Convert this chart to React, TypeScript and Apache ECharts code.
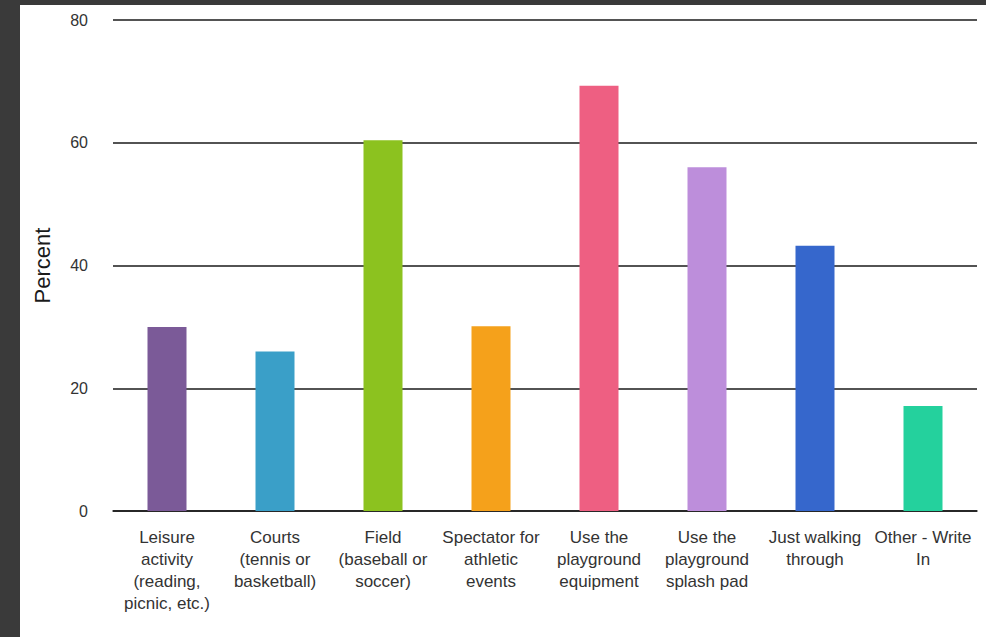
import React, { useEffect, useRef } from "react";
import * as echarts from "echarts";

const categories = [
  "Leisure\nactivity\n(reading,\npicnic, etc.)",
  "Courts\n(tennis or\nbasketball)",
  "Field\n(baseball or\nsoccer)",
  "Spectator for\nathletic\nevents",
  "Use the\nplayground\nequipment",
  "Use the\nplayground\nsplash pad",
  "Just walking\nthrough",
  "Other - Write\nIn",
];
const values = [30.0, 26.0, 60.4, 30.1, 69.3, 56.0, 43.2, 17.1];
const barColors = ["#7b5a98", "#3a9fc8", "#8cc21f", "#f5a11b", "#ee5f82", "#bd8edb", "#3667cc", "#24d19d"];
const yTicks = { min: 0, max: 80, interval: 20 };
const yName = "Percent";

const FONT = "Liberation Sans, Arial, Helvetica, sans-serif";

export default function App() {
  const ref = useRef<HTMLDivElement>(null);
  useEffect(() => {
    document.body.style.margin = "0";
    const chart = echarts.init(ref.current!, undefined, { renderer: "svg" });
    chart.setOption({
      animation: false,
      backgroundColor: "#ffffff",
      textStyle: { fontFamily: FONT },
      grid: { left: 93, right: 9, top: 15, bottom: 126 },
      xAxis: {
        type: "category",
        data: categories,
        axisLine: { show: true, lineStyle: { color: "#1a1a1a", width: 1.5 } },
        axisTick: { show: false },
        axisLabel: {
          interval: 0,
          color: "#333333",
          fontSize: 17,
          lineHeight: 22,
          margin: 15,
          fontFamily: FONT,
        },
      },
      yAxis: {
        type: "value",
        min: yTicks.min,
        max: yTicks.max,
        interval: yTicks.interval,
        name: yName,
        nameLocation: "middle",
        nameRotate: 90,
        nameGap: 60,
        nameTextStyle: { color: "#1a1a1a", fontSize: 22, fontFamily: FONT },
        axisLine: { show: false },
        axisTick: { show: false },
        axisLabel: { color: "#333333", fontSize: 16, margin: 25, fontFamily: FONT },
        splitLine: { show: true, lineStyle: { color: "#1a1a1a", width: 1.5 } },
      },
      series: [
        {
          type: "bar",
          barWidth: 39,
          data: values.map((v, i) => ({ value: v, itemStyle: { color: barColors[i] } })),
        },
      ],
    });
    return () => chart.dispose();
  }, []);
  return (
    <div style={{ position: "fixed", left: 0, top: 0, width: 986, height: 637, background: "#3a3a3a" }}>
      <div ref={ref} style={{ position: "absolute", left: 20, top: 5, width: 966, height: 632 }} />
    </div>
  );
}
